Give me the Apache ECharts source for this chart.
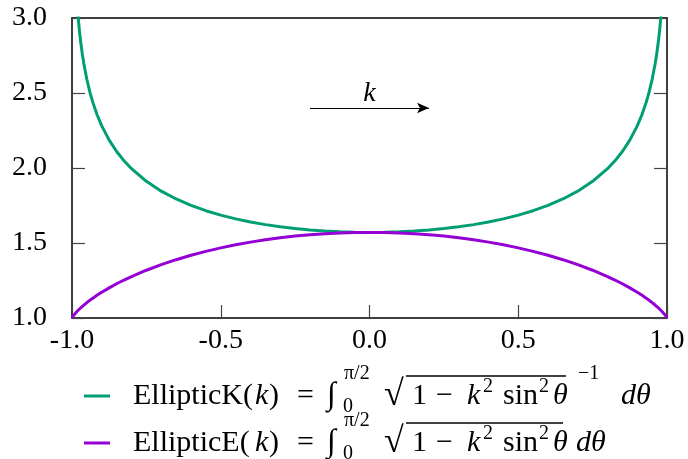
<!DOCTYPE html>
<html>
<head>
<meta charset="utf-8">
<script src="https://cdn.jsdelivr.net/npm/echarts@6/dist/echarts.min.js"></script>
<style>
  html, body { margin: 0; padding: 0; background: #fff; }
  #main { width: 688px; height: 459px; }
</style>
</head>
<body>
<div id="main"></div>
<script>
// modulus k
var kValues = [-1, -0.998, -0.995, -0.99, -0.985, -0.98, -0.975, -0.97, -0.965, -0.96, -0.95, -0.94, -0.93, -0.915, -0.9, -0.875, -0.85, -0.825,
  -0.8, -0.75, -0.7, -0.65, -0.6, -0.55, -0.5, -0.45, -0.4, -0.35, -0.3, -0.25, -0.2, -0.15, -0.1, -0.05,
  0, 0.05, 0.1, 0.15, 0.2, 0.25, 0.3, 0.35, 0.4, 0.45, 0.5, 0.55, 0.6, 0.65, 0.7, 0.75, 0.8,
  0.825, 0.85, 0.875, 0.9, 0.915, 0.93, 0.94, 0.95, 0.96, 0.965, 0.97, 0.975, 0.98, 0.985, 0.99, 0.995, 0.998, 1];

var ellipticK = [null, 4.1506, 3.6956, 3.3566, 3.1595, 3.0210, 2.9144, 2.8280, 2.7555, 2.6931, 2.5900, 2.5069, 2.4375, 2.3514, 2.2805, 2.1855, 2.1099, 2.0478,
  1.9953, 1.9110, 1.8457, 1.7934, 1.7508, 1.7154, 1.6858, 1.6609, 1.6400, 1.6225, 1.6080, 1.5962, 1.5869, 1.5798, 1.5747, 1.5718,
  1.5708, 1.5718, 1.5747, 1.5798, 1.5869, 1.5962, 1.6080, 1.6225, 1.6400, 1.6609, 1.6858, 1.7154, 1.7508, 1.7934, 1.8457, 1.9110, 1.9953,
  2.0478, 2.1099, 2.1855, 2.2805, 2.3514, 2.4375, 2.5069, 2.5900, 2.6931, 2.7555, 2.8280, 2.9144, 3.0210, 3.1595, 3.3566, 3.6956, 4.1506, null];

var ellipticE = [1.0000, 1.0073, 1.0159, 1.0285, 1.0397, 1.0501, 1.0599, 1.0691, 1.0780, 1.0865, 1.1028, 1.1179, 1.1323, 1.1526, 1.1717, 1.2011, 1.2282, 1.2532,
  1.2763, 1.3184, 1.3557, 1.3887, 1.4181, 1.4442, 1.4675, 1.4880, 1.5059, 1.5215, 1.5348, 1.5460, 1.5550, 1.5619, 1.5669, 1.5698,
  1.5708, 1.5698, 1.5669, 1.5619, 1.5550, 1.5460, 1.5348, 1.5215, 1.5059, 1.4880, 1.4675, 1.4442, 1.4181, 1.3887, 1.3557, 1.3184, 1.2763,
  1.2532, 1.2282, 1.2011, 1.1717, 1.1526, 1.1323, 1.1179, 1.1028, 1.0865, 1.0780, 1.0691, 1.0599, 1.0501, 1.0397, 1.0285, 1.0159, 1.0073, 1.0000];

var seriesNames = ['EllipticK', 'EllipticE'];

var FONT = 'Liberation Serif';

function pairs(ys) {
  var out = [];
  for (var i = 0; i < kValues.length; i++) out.push([kValues[i], ys[i]]);
  return out;
}

// formula pieces laid out in fixed-width boxes to mimic TeX spacing
var formulaHead = '{sp|}{nm|Elliptic$(}{kk|k}{cl|)}{eq|=}{int|∫}{sub|0}{sup|π/2}{rad|√}{one|1}{mi|−}{k2|k}{sq|2}{sin|sin}{sq2|2}';
var legendText = {
  'EllipticK': formulaHead.replace('$', 'K') + '{th|θ}{inv|−1}{i|dθ}',
  'EllipticE': formulaHead.replace('$', 'E') + '{th2|θ}{i|dθ}'
};

function box(w, extra) {
  var s = { fontFamily: FONT, fontSize: 30, color: '#000', lineHeight: 44, width: w, align: 'left', verticalAlign: 'middle' };
  for (var key in extra) s[key] = extra[key];
  return s;
}

var supHigh = { fontSize: 20, lineHeight: 18, padding: [0, 0, 44, 0] };
var supLow = { fontSize: 20, lineHeight: 20, padding: [0, 0, 18, 0] };

var legendRich = {
  sp: { width: 18 },
  nm: box(122),
  kk: box(14, { fontStyle: 'italic' }),
  cl: box(28),
  eq: box(30),
  int: box(16, { fontSize: 32, fontStyle: 'italic' }),
  sub: box(1, { fontSize: 20, lineHeight: 20, padding: [22, 0, 0, 0] }),
  sup: box(40, supHigh),
  rad: box(28, { fontSize: 36 }),
  one: box(24),
  mi: box(31),
  k2: box(16, { fontStyle: 'italic' }),
  sq: box(20, supLow),
  sin: box(36),
  sq2: box(14, supLow),
  th: box(25, { fontStyle: 'italic' }),
  th2: box(23, { fontStyle: 'italic' }),
  inv: box(43, supHigh),
  i: box(null, { fontStyle: 'italic' })
};

function makeLegend(name, top) {
  return {
    left: 84, top: top, padding: 0,
    icon: 'rect', itemWidth: 26, itemHeight: 3,
    data: [name],
    formatter: function (n) { return legendText[n]; },
    textStyle: { rich: legendRich }
  };
}

var axisLineStyle = { color: '#000', width: 1.5 };
var tickStyle = { color: '#444', width: 1.2 };

var myChart = echarts.init(document.getElementById('main'));

var option = {
  animation: false,
  color: ['#009e73', '#9400d3'],
  grid: { left: 72, right: 21, top: 18, bottom: 141, containLabel: false },
  xAxis: [
    {
      type: 'value', min: -1, max: 1, interval: 0.5, position: 'bottom',
      axisLine: { lineStyle: axisLineStyle },
      axisTick: { inside: true, length: 13, lineStyle: tickStyle },
      axisLabel: { margin: 9, color: '#000', fontFamily: FONT, fontSize: 28,
        formatter: function (v) { return v.toFixed(1); } },
      splitLine: { show: false }
    },
    {
      type: 'value', min: -1, max: 1, position: 'top',
      axisLine: { onZero: false, lineStyle: axisLineStyle },
      axisTick: { show: false }, axisLabel: { show: false }, splitLine: { show: false }
    }
  ],
  yAxis: [
    {
      type: 'value', min: 1, max: 3, interval: 0.5, position: 'left',
      axisLine: { show: true, onZero: false, lineStyle: axisLineStyle },
      axisTick: { show: true, inside: true, length: 13, lineStyle: tickStyle },
      axisLabel: { margin: 25, color: '#000', fontFamily: FONT, fontSize: 28,
        formatter: function (v) { return v.toFixed(1); } },
      splitLine: { show: false }
    },
    {
      type: 'value', min: 1, max: 3, interval: 0.5, position: 'right',
      axisLine: { show: true, onZero: false, lineStyle: axisLineStyle },
      axisTick: { show: true, inside: true, length: 13, lineStyle: tickStyle },
      axisLabel: { show: false }, splitLine: { show: false }
    }
  ],
  legend: [makeLegend(seriesNames[0], 364), makeLegend(seriesNames[1], 411)],
  series: [
    {
      name: seriesNames[0], type: 'line', data: pairs(ellipticK),
      showSymbol: false, clip: true, lineStyle: { width: 3 },
      markLine: {
        silent: true, symbol: ['none', 'arrow'], symbolSize: [8, 12],
        lineStyle: { color: '#000', width: 1.2, type: 'solid' },
        label: { show: true, position: 'middle', formatter: 'k', distance: 0,
          color: '#000', fontFamily: FONT, fontSize: 28, fontStyle: 'italic' },
        data: [[{ coord: [-0.2, 2.4] }, { coord: [0.2, 2.4] }]]
      }
    },
    {
      name: seriesNames[1], type: 'line', data: pairs(ellipticE),
      showSymbol: false, clip: true, lineStyle: { width: 3 }
    }
  ],
  graphic: [
    { type: 'line', shape: { x1: 406, y1: 376, x2: 566, y2: 376 }, style: { stroke: '#000', lineWidth: 1.3 } },
    { type: 'line', shape: { x1: 406, y1: 423, x2: 563, y2: 423 }, style: { stroke: '#000', lineWidth: 1.3 } }
  ]
};

myChart.setOption(option);
</script>
</body>
</html>
